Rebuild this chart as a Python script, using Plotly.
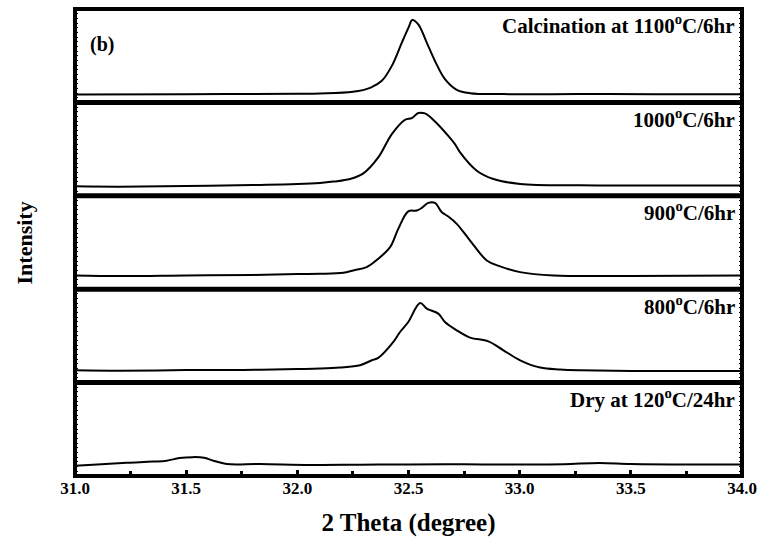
import plotly.graph_objects as go
from plotly.subplots import make_subplots

# ---- data ----
x_1100 = [31.0, 31.5, 32.0, 32.1, 32.25, 32.33, 32.38, 32.425, 32.47, 32.50, 32.517, 32.544,
          32.582, 32.619, 32.664, 32.717, 32.777, 32.925, 33.27, 33.6, 34.0]
y_1100 = [8.5, 8.8, 9.3, 9.6, 11.3, 15.9, 23.1, 39.1, 64, 80, 88.2, 83.6,
          64, 44.4, 24.9, 13.5, 9.9, 8.9, 8.9, 8.8, 8.7]

x_1000 = [31.0, 31.2, 31.5, 31.8, 32.0, 32.102, 32.162, 32.237, 32.297, 32.364, 32.425, 32.484,
          32.515, 32.544, 32.574, 32.619, 32.672, 32.709, 32.732, 32.807, 32.882, 33.002, 33.272,
          33.6, 34.0]
y_1000 = [10.2, 9.8, 10.6, 11.5, 12.5, 13.7, 15.2, 18, 24, 41.1, 66.1, 81.4,
          83.2, 88.6, 88.2, 79.6, 66.1, 55.4, 46.5, 26.9, 18, 12.7, 11.2,
          11.0, 10.9]

x_900 = [31.0, 31.2, 31.5, 31.8, 32.0, 32.102, 32.207, 32.252, 32.312, 32.364, 32.417, 32.454,
         32.499, 32.537, 32.560, 32.589, 32.619, 32.650, 32.679, 32.717, 32.777, 32.852, 32.912,
         33.002, 33.152, 33.5, 34.0]
y_900 = [14.7, 14.0, 14.7, 15.3, 16.3, 16.5, 17.6, 20.1, 23.6, 32.6, 45, 64.6,
         83.4, 84.2, 87.1, 92.4, 92.4, 82.4, 77.8, 70, 52.1, 30.8, 24.4,
         18.3, 14.7, 14.2, 14.7]

x_800 = [31.0, 31.2, 31.5, 31.757, 32.0, 32.102, 32.192, 32.282, 32.335, 32.364, 32.432, 32.462,
         32.499, 32.552, 32.582, 32.634, 32.664, 32.717, 32.777, 32.859, 32.927, 33.002, 33.092,
         33.182, 33.272, 33.6, 34.0]
y_800 = [13.2, 12.7, 13.4, 13.6, 14.5, 15.0, 16.1, 18.6, 23.9, 26.4, 43.5, 54.2,
         64.9, 85.2, 79.2, 73.8, 64.9, 56, 48.2, 44.2, 34.6, 23.9, 16.1,
         14, 13.2, 12.3, 12.5]

x_dry = [31.0, 31.1, 31.232, 31.35, 31.412, 31.47, 31.53, 31.58, 31.622, 31.682, 31.832, 32.057,
         32.282, 32.5, 32.75, 33.0, 33.2, 33.36, 33.5, 33.75, 34.0]
y_dry = [11, 12.4, 14.2, 15.4, 16.4, 19.2, 20.2, 19.6, 16.4, 12.8, 12.8, 11.8,
         12.1, 12.3, 12.5, 12.3, 12.6, 14.0, 12.8, 12.4, 12.3]

panel_labels = ["Calcination at 1100<sup>o</sup>C/6hr", "1000<sup>o</sup>C/6hr",
                "900<sup>o</sup>C/6hr", "800<sup>o</sup>C/6hr", "Dry at 120<sup>o</sup>C/24hr"]
tick_vals = [31.0, 31.5, 32.0, 32.5, 33.0, 33.5, 34.0]
tick_text = ["31.0", "31.5", "32.0", "32.5", "33.0", "33.5", "34.0"]
minor_vals = [31.25, 31.75, 32.25, 32.75, 33.25, 33.75]

series = [(x_1100, y_1100), (x_1000, y_1000), (x_900, y_900), (x_800, y_800), (x_dry, y_dry)]

FONT = "Liberation Serif"

fig = make_subplots(rows=5, cols=1, shared_xaxes=True, vertical_spacing=0)

for i, (xs, ys) in enumerate(series):
    fig.add_trace(go.Scatter(x=xs, y=ys, mode="lines", line=dict(color="black", width=2),
                             line_shape="spline", showlegend=False, hoverinfo="skip"),
                  row=i + 1, col=1)
    fig.update_yaxes(range=[0, 100], showticklabels=False, showgrid=False, zeroline=False,
                     showline=False, automargin=False,
                     ticks="inside", ticklen=3, tickwidth=1, tickcolor="black",
                     tick0=0, dtick=5, mirror="ticks", row=i + 1, col=1)
    last = (i == 4)
    fig.update_xaxes(range=[31.0, 34.0], showgrid=False, zeroline=False,
                     showline=False, automargin=False,
                     ticks="inside" if last else "", ticklen=6, tickwidth=3, tickcolor="black",
                     tickvals=tick_vals, ticktext=["<b>%s</b>" % t for t in tick_text],
                     showticklabels=last,
                     minor=dict(ticks="inside" if last else "", tickvals=minor_vals,
                                ticklen=5, tickwidth=3, tickcolor="black"),
                     tickfont=dict(family=FONT, size=17, color="black"),
                     row=i + 1, col=1)
    yref = "y domain" if i == 0 else f"y{i + 1} domain"
    xref = "x domain" if i == 0 else f"x{i + 1} domain"
    fig.add_annotation(text="<b>%s</b>" % panel_labels[i], xref=xref, yref=yref, x=0.993, y=0.995,
                       xanchor="right", yanchor="top", showarrow=False,
                       font=dict(family=FONT, size=21, color="black"))

fig.add_annotation(text="<b>(b)</b>", xref="x domain", yref="y domain", x=0.02, y=0.615,
                   xanchor="left", yanchor="middle", showarrow=False,
                   font=dict(family=FONT, size=20, color="black"))

fig.update_xaxes(title=dict(text="<b>2 Theta (degree)</b>", standoff=16,
                            font=dict(family=FONT, size=25, color="black")),
                 row=5, col=1)

fig.add_annotation(text="<b>Intensity</b>", xref="paper", yref="paper", x=-0.075, y=0.5,
                   xanchor="center", yanchor="middle", textangle=-90, showarrow=False,
                   font=dict(family=FONT, size=22, color="black"))

# frame and panel separators
shapes = [dict(type="rect", xref="paper", yref="paper", x0=0, x1=1, y0=0, y1=1,
               line=dict(color="black", width=4))]
for k in range(1, 5):
    shapes.append(dict(type="line", xref="paper", yref="paper", x0=0, x1=1, y0=k / 5, y1=k / 5,
                       line=dict(color="black", width=5)))

fig.update_layout(width=760, height=545, margin=dict(l=75, r=18, t=9, b=69),
                  plot_bgcolor="white", paper_bgcolor="white", shapes=shapes,
                  font=dict(family=FONT, color="black"))

# remove the browser's default body margin so the figure fills the window exactly
fig.write_html("out.html", config={"displayModeBar": False},
               post_script="document.body.style.margin='0';document.documentElement.style.overflow='hidden';")
